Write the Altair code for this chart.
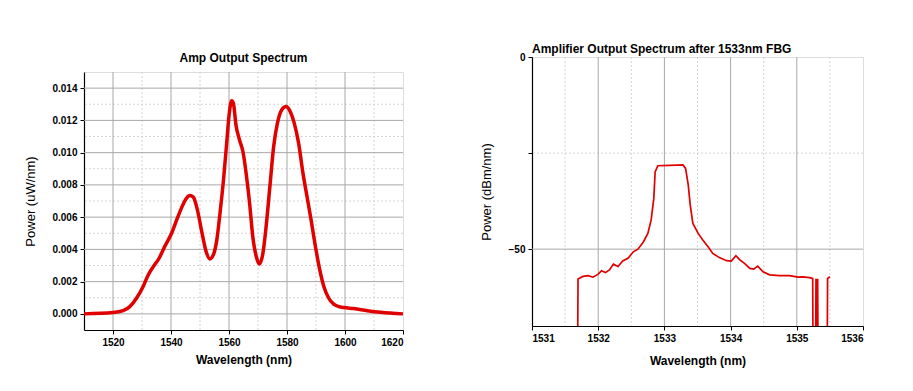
import altair as alt
import pandas as pd

# ---- Left panel: Amp Output Spectrum ----
amp_wl = [1510, 1520, 1523.5, 1525.8, 1528.1, 1530.4, 1532.1, 1533.8, 1535.9, 1537.9,
          1540.2, 1541.9, 1543.6, 1545.1, 1546.5, 1547.7, 1549.1, 1550.6, 1552.1, 1553.4,
          1554.6, 1555.8, 1556.9, 1558.1, 1559.2, 1560.1, 1560.9, 1561.5, 1562.4, 1563.6,
          1564.8, 1565.9, 1567.1, 1568.2, 1569.4, 1570.5, 1571.7, 1572.8, 1574.2, 1575.4,
          1576.7, 1578.2, 1579.7, 1581.1, 1582.5, 1584.0, 1585.5, 1586.9, 1588.3, 1589.8,
          1591.3, 1592.7, 1594.4, 1596.1, 1597.9, 1599.6, 1603.0, 1607.7, 1612.3, 1620]
amp_pw = [0.0, 0.00008, 0.0002, 0.00045, 0.00097, 0.0017, 0.0024, 0.0029, 0.00345, 0.0042,
          0.0050, 0.0058, 0.00656, 0.00711, 0.00734, 0.00724, 0.00645, 0.0051, 0.00387, 0.00341,
          0.00366, 0.00459, 0.00625, 0.00831, 0.01059, 0.01245, 0.01321, 0.01307, 0.01172, 0.0108,
          0.01007, 0.00873, 0.00687, 0.0048, 0.00356, 0.0031, 0.00376, 0.00542, 0.0081, 0.01038,
          0.01183, 0.01266, 0.01286, 0.01255, 0.01183, 0.01059, 0.00873, 0.00728, 0.00583, 0.00418,
          0.00273, 0.0017, 0.00097, 0.0006, 0.00045, 0.00039, 0.00033, 0.0002, 0.0001, 0.0]
amp_x_ticks = [1520, 1540, 1560, 1580, 1600, 1620]
amp_x_grid = [1520, 1540, 1560, 1580, 1600]
amp_x_minor = [1530, 1550, 1570, 1590, 1610]
amp_y_ticks = [0.000, 0.002, 0.004, 0.006, 0.008, 0.010, 0.012, 0.014]
amp_y_minor = [0.001, 0.003, 0.005, 0.007, 0.009, 0.011, 0.013]

# ---- Right panel: after 1533nm FBG ----
fbg_wl = [1531.69, 1531.695, 1531.77, 1531.85, 1531.92, 1532.0, 1532.05, 1532.11, 1532.17, 1532.23,
          1532.30, 1532.37, 1532.45, 1532.53, 1532.60, 1532.68, 1532.75, 1532.80, 1532.84, 1532.86,
          1532.90, 1533.08, 1533.28, 1533.32, 1533.36, 1533.39, 1533.43, 1533.51, 1533.58, 1533.66,
          1533.73, 1533.83, 1533.94, 1534.01, 1534.08, 1534.14, 1534.21, 1534.29, 1534.35, 1534.41,
          1534.49, 1534.59, 1534.74, 1534.89, 1535.02, 1535.09, 1535.19, 1535.24, 1535.245, 1535.285,
          1535.29, 1535.30, 1535.31, 1535.315, 1535.32, 1535.46, 1535.465, 1535.50]
fbg_db = [-75, -57.75, -57.1, -56.9, -57.3, -56.5, -55.6, -56.1, -55.4, -53.9,
          -54.5, -53.1, -52.4, -50.7, -50.0, -48.2, -45.9, -42.4, -36.8, -29.9,
          -28.3, -28.2, -28.1, -29.0, -33.3, -38.5, -43.3, -45.9, -47.6, -49.4,
          -51.1, -52.2, -53.0, -53.1, -51.7, -52.8, -53.7, -55.0, -55.2, -54.4,
          -55.9, -56.7, -56.9, -56.9, -57.3, -57.2, -57.4, -57.6, -75, -75,
          -57.7, -75, -75, -57.7, -75, -75, -57.6, -57.2]
fbg_x_ticks = [1531, 1532, 1533, 1534, 1535, 1536]
fbg_x_grid = [1532, 1533, 1534, 1535]
fbg_x_minor = [1531.5, 1532.5, 1533.5, 1534.5, 1535.5]
fbg_y_ticks = [0, -25, -50]
fbg_y_grid = [-50]
fbg_y_minor = [-25]

FONT = "Liberation Sans"
RED = "#e00000"
MAJOR = "#a8a8a8"
MINOR = "#d4d4d4"

amp_df = pd.DataFrame({"wl": amp_wl, "pw": amp_pw})
fbg_df = pd.DataFrame({"wl": fbg_wl, "db": fbg_db})

ax_common = dict(domainColor="black", domainWidth=1.2, tickColor="black", grid=False,
                 labelFont=FONT, labelFontWeight="bold", labelFontSize=10, labelOverlap=False,
                 labelColor="black", titleFont=FONT, titleColor="black")

# left scales / axes
lx = alt.Scale(domain=[1510, 1620], nice=False, zero=False)
ly = alt.Scale(domain=[-0.001, 0.015], nice=False, zero=False)
lx_axis = alt.Axis(values=amp_x_ticks, format="d", tickSize=4, labelPadding=3,
                   titlePadding=7, titleFontSize=12, titleFontWeight="bold", **ax_common)
ly_axis = alt.Axis(values=amp_y_ticks, format=".3f", tickSize=4, labelPadding=3,
                   titlePadding=14, titleFontSize=13, titleFontWeight="normal", **ax_common)
LX_T, LY_T = "Wavelength (nm)", "Power (uW/nm)"

# right scales / axes
rx = alt.Scale(domain=[1531, 1536], nice=False, zero=False)
ry = alt.Scale(domain=[-70, 0], nice=False, zero=False)
rx_axis = alt.Axis(values=fbg_x_ticks, format="d", tickSize=4, labelPadding=3,
                   titlePadding=12, titleFontSize=12, titleFontWeight="bold", **ax_common)
ry_axis = alt.Axis(values=fbg_y_ticks, format="d", tickSize=4, labelPadding=3,
                   titlePadding=15, titleFontSize=13, titleFontWeight="normal",
                   labelExpr="datum.value == -25 ? '' : datum.label", **ax_common)
RX_T, RY_T = "Wavelength (nm)", "Power (dBm/nm)"


def rules(vals, ch, scale, axis, title, color, dash=None):
    kw = dict(color=color, strokeWidth=1)
    if dash:
        kw["strokeDash"] = dash
    if ch == "x":
        enc = {"x": alt.X("v:Q", scale=scale, axis=axis, title=title)}
    else:
        enc = {"y": alt.Y("v:Q", scale=scale, axis=axis, title=title)}
    return alt.Chart(pd.DataFrame({"v": vals})).mark_rule(**kw).encode(**enc)


l_line = alt.Chart(amp_df).mark_line(color=RED, strokeWidth=3.5, interpolate="monotone").encode(
    x=alt.X("wl:Q", scale=lx, title=LX_T, axis=lx_axis),
    y=alt.Y("pw:Q", scale=ly, title=LY_T, axis=ly_axis),
)
left = alt.layer(
    rules(amp_x_minor, "x", lx, lx_axis, LX_T, MINOR, [2, 2]),
    rules(amp_y_minor, "y", ly, ly_axis, LY_T, MINOR, [2, 2]),
    rules(amp_x_grid, "x", lx, lx_axis, LX_T, MAJOR),
    rules(amp_y_ticks, "y", ly, ly_axis, LY_T, MAJOR),
    l_line,
).properties(width=319, height=258)

# spacer carrying the left title (lets the left plot sit lower than the right one)
spacer = alt.Chart(pd.DataFrame({"v": [0]})).mark_point(opacity=0).encode(
    x=alt.X("v:Q", axis=None), y=alt.Y("v:Q", axis=None)
).properties(
    width=319, height=14, view=alt.ViewBackground(stroke=None),
    title=alt.TitleParams("Amp Output Spectrum", font=FONT, fontSize=12, fontWeight="bold",
                          color="black", anchor="middle", offset=-8))

left_col = alt.vconcat(spacer, left, spacing=0)

r_line = alt.Chart(fbg_df).mark_line(color=RED, strokeWidth=1.7, clip=True).encode(
    x=alt.X("wl:Q", scale=rx, title=RX_T, axis=rx_axis),
    y=alt.Y("db:Q", scale=ry, title=RY_T, axis=ry_axis),
)
right = alt.layer(
    rules(fbg_x_minor, "x", rx, rx_axis, RX_T, MINOR, [2, 2]),
    rules(fbg_y_minor, "y", ry, ry_axis, RY_T, MINOR, [2, 2]),
    rules(fbg_x_grid, "x", rx, rx_axis, RX_T, MAJOR),
    rules(fbg_y_grid, "y", ry, ry_axis, RY_T, MAJOR),
    r_line,
).properties(
    width=331, height=269,
    title=alt.TitleParams("Amplifier Output Spectrum after 1533nm FBG", font=FONT, fontSize=12,
                          fontWeight="bold", color="black", anchor="start", frame="group",
                          offset=-4))

chart = alt.hconcat(left_col, right, spacing=68).configure_view(
    stroke="black", strokeWidth=1.5).configure(
    background="white", padding={"left": 16, "top": 34, "right": 5, "bottom": 5})

chart.save("out.html", embed_options={"renderer": "svg", "actions": False})
